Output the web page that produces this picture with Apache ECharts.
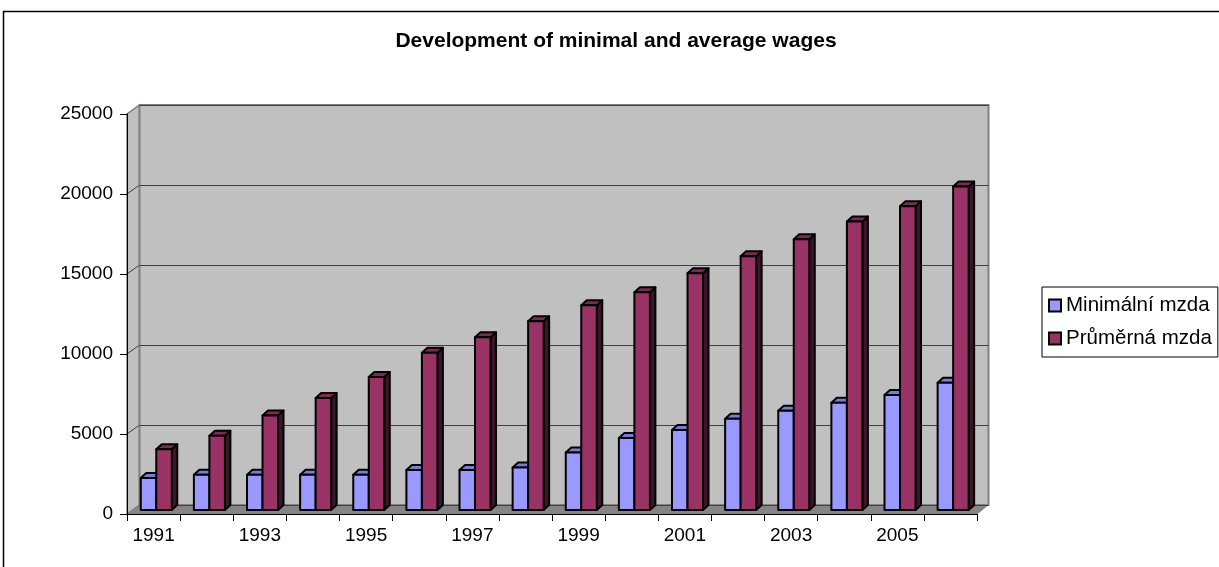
<!DOCTYPE html>
<html>
<head>
<meta charset="utf-8">
<script src="https://cdn.jsdelivr.net/npm/echarts@6/dist/echarts.min.js"></script>
<style>
html,body{margin:0;padding:0;background:#fff;}
#chart{width:1219px;height:567px;}
</style>
</head>
<body>
<div id="chart"></div>
<script>
// ---- data ----
const years = ['1991','1992','1993','1994','1995','1996','1997','1998','1999','2000','2001','2002','2003','2004','2005','2006'];
const minWage = [2000, 2200, 2200, 2200, 2200, 2500, 2500, 2650, 3600, 4500, 5000, 5700, 6200, 6700, 7185, 7955];
const avgWage = [3792, 4644, 5904, 7004, 8307, 9825, 10802, 11801, 12797, 13614, 14793, 15866, 16917, 18035, 18992, 20219];
const yTicks = [0, 5000, 10000, 15000, 20000, 25000];
const seriesNames = ['Minimální mzda', 'Průměrná mzda'];
const titleText = 'Development of minimal and average wages';

// ---- layout / style ----
const FONT = '"Liberation Sans", Arial, sans-serif';
const FRONT = {left: 127, top: 114, width: 850, height: 400};
const WALL = {dx: 12.5, dy: -9};
const BAR = {shiftX: 2.7, shiftY: -4, width: 15.5, dx: 5.5, dy: -5};
const COLORS = [
  {front: '#9999FF', top: '#7c7cd8', side: '#4f4f8a'},
  {front: '#993366', top: '#7a2a55', side: '#3d1428'}
];

const chart = echarts.init(document.getElementById('chart'));

function makeRender(side, col) {
  return function (params, api) {
    const i = api.value(0), v = api.value(1);
    const p = api.coord([i, v]);
    const b = api.coord([i, 0]);
    const cx = p[0] + BAR.shiftX;
    const x0 = side < 0 ? cx - BAR.width : cx;
    const x1 = x0 + BAR.width;
    const yt = p[1] + BAR.shiftY;
    const yb = b[1] + BAR.shiftY;
    const dx = BAR.dx, dy = BAR.dy;
    const stroke = {stroke: '#000', lineWidth: 2, lineJoin: 'round'};
    return {
      type: 'group',
      children: [
        {type: 'polygon', shape: {points: [[x1, yb], [x1 + dx, yb + dy], [x1 + dx, yt + dy], [x1, yt]]},
         style: Object.assign({fill: col.side}, stroke)},
        {type: 'polygon', shape: {points: [[x0, yt], [x0 + dx, yt + dy], [x1 + dx, yt + dy], [x1, yt]]},
         style: Object.assign({fill: col.top}, stroke)},
        {type: 'rect', shape: {x: x0, y: yt, width: x1 - x0, height: yb - yt},
         style: Object.assign({fill: col.front}, stroke)}
      ]
    };
  };
}

const yMax = yTicks[yTicks.length - 1];
const yStep = yTicks[1] - yTicks[0];

// wall graphics computed from layout
const fl = FRONT.left, ft = FRONT.top, fr = FRONT.left + FRONT.width, fb = FRONT.top + FRONT.height;
const graphics = [
  {type: 'rect', z: -20, shape: {x: 3.5, y: 11.5, width: 1400, height: 800},
   style: {fill: '#fff', stroke: '#000', lineWidth: 1.5}},
  {type: 'polygon', z: -5, shape: {points: [[fl, ft], [fl + WALL.dx, ft + WALL.dy], [fl + WALL.dx, fb + WALL.dy], [fl, fb]]},
   style: {fill: '#c0c0c0', stroke: '#808080', lineWidth: 1.5}},
  {type: 'polygon', z: -5, shape: {points: [[fl, fb], [fr, fb], [fr + WALL.dx - 1.5, fb + WALL.dy], [fl + WALL.dx, fb + WALL.dy]]},
   style: {fill: '#858585', stroke: '#808080', lineWidth: 1}}
];
yTicks.forEach(function (t) {
  if (t === 0) return;
  const y = fb - (t / yMax) * FRONT.height;
  graphics.push({type: 'line', z: -4, shape: {x1: fl, y1: y, x2: fl + WALL.dx, y2: y + WALL.dy},
    style: {stroke: t === yMax ? '#808080' : '#404040', lineWidth: 1}});
});

chart.setOption({
  backgroundColor: '#fff',
  animation: false,
  title: {
    text: titleText, left: 616, top: 31, textAlign: 'center', padding: 0,
    textStyle: {fontFamily: FONT, fontSize: 21, fontWeight: 'bold', color: '#000'}
  },
  legend: {
    orient: 'vertical', left: 1042, top: 287,
    padding: [8, 6, 8, 6], itemGap: 12, itemWidth: 12, itemHeight: 12, itemTextGap: 7,
    borderColor: '#000', borderWidth: 1, backgroundColor: '#fff',
    icon: 'rect',
    itemStyle: {borderColor: '#000', borderWidth: 2},
    textStyle: {fontFamily: FONT, fontSize: 20.5, lineHeight: 20, color: '#000'},
    data: seriesNames
  },
  graphic: graphics,
  grid: [
    {left: FRONT.left, top: FRONT.top, width: FRONT.width, height: FRONT.height},
    {left: FRONT.left + WALL.dx, top: FRONT.top + WALL.dy, width: FRONT.width - 1, height: FRONT.height,
     show: true, backgroundColor: '#c0c0c0', borderColor: '#808080', borderWidth: 2}
  ],
  xAxis: [
    {type: 'category', gridIndex: 0, data: years, boundaryGap: true,
     axisLine: {lineStyle: {color: '#000', width: 1}},
     axisTick: {show: true, interval: 0, length: 7, lineStyle: {color: '#000'}},
     axisLabel: {interval: 1, margin: 12, fontFamily: FONT, fontSize: 19, color: '#000'},
     splitLine: {show: false}},
    {type: 'category', gridIndex: 1, data: years, show: false}
  ],
  yAxis: [
    {type: 'value', gridIndex: 0, min: 0, max: yMax, interval: yStep,
     axisLine: {show: true, lineStyle: {color: '#000', width: 1}},
     axisTick: {show: true, length: 7, lineStyle: {color: '#000'}},
     axisLabel: {margin: 14, fontFamily: FONT, fontSize: 19, color: '#000',
       formatter: function (v) { return String(v); }},
     splitLine: {show: false}},
    {type: 'value', gridIndex: 1, min: 0, max: yMax, interval: yStep,
     axisLine: {show: false}, axisTick: {show: false}, axisLabel: {show: false},
     splitLine: {show: true, lineStyle: {color: '#404040', width: 1}}}
  ],
  series: [
    {name: seriesNames[0], type: 'custom', xAxisIndex: 0, yAxisIndex: 0,
     itemStyle: {color: COLORS[0].front, borderColor: '#000'},
     encode: {x: 0, y: 1},
     renderItem: makeRender(-1, COLORS[0]),
     data: minWage.map(function (v, i) { return [i, v]; })},
    {name: seriesNames[1], type: 'custom', xAxisIndex: 0, yAxisIndex: 0,
     itemStyle: {color: COLORS[1].front, borderColor: '#000'},
     encode: {x: 0, y: 1},
     renderItem: makeRender(1, COLORS[1]),
     data: avgWage.map(function (v, i) { return [i, v]; })}
  ]
});
</script>
</body>
</html>
